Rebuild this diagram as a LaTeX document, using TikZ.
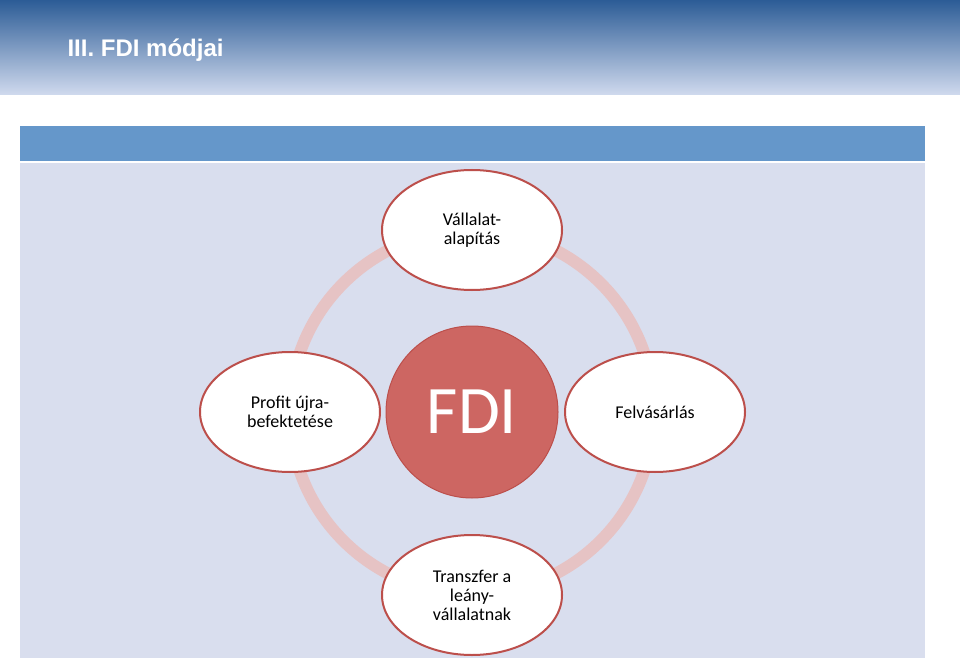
\documentclass[tikz,border=0pt]{standalone}
\usepackage{fontspec}
\setmainfont{Carlito}
\setsansfont{Liberation Sans}
\usetikzlibrary{positioning}
\definecolor{headtop}{HTML}{2C5C96}
\definecolor{headbot}{HTML}{D0DAEE}
\definecolor{barblue}{HTML}{6597CA}
\definecolor{panel}{HTML}{D9DEEE}
\definecolor{ring}{HTML}{E6C3C4}
\definecolor{redfill}{HTML}{CD6662}
\definecolor{redline}{HTML}{BC4F4B}
\tikzset{
  mode/.style={draw=redline,line width=2pt,fill=white,ellipse,minimum width=180pt,
    minimum height=120pt,align=center,font=\fontsize{18}{19}\selectfont,inner sep=0pt},
}
\usetikzlibrary{shapes.geometric}
\begin{document}
\begin{tikzpicture}[x=1pt,y=-1pt]
  \useasboundingbox (0,0) rectangle (960,660);
  % header and panel
  \shade[top color=headtop,bottom color=headbot] (0,0) rectangle (960,95);
  \node[anchor=west,text=white,font=\sffamily\bfseries\fontsize{24}{26}\selectfont]
    (title) at (64,50) {III. FDI módjai};
  \fill[barblue] (20,126) rectangle (925,161);
  \fill[panel] (20,163) rectangle (925,658);

  % ring
  \draw[ring,line width=12pt] (472,412) circle (182);

  % centre
  \node[circle,draw=redline,line width=1pt,fill=redfill,minimum size=172pt,
    text=white,font=\fontsize{68}{70}\selectfont] (fdi) at (472,412) {FDI};

  % modes
  \node[mode] (alap) at (472,230) {Vállalat-\\alapítás};
  \node[mode] (felv) at (655,412) {Felvásárlás};
  \node[mode] (tran) at (472,595) {Transzfer a\\leány-\\vállalatnak};
  \node[mode] (prof) at (290,412) {Profit újra-\\befektetése};
\end{tikzpicture}
\end{document}
